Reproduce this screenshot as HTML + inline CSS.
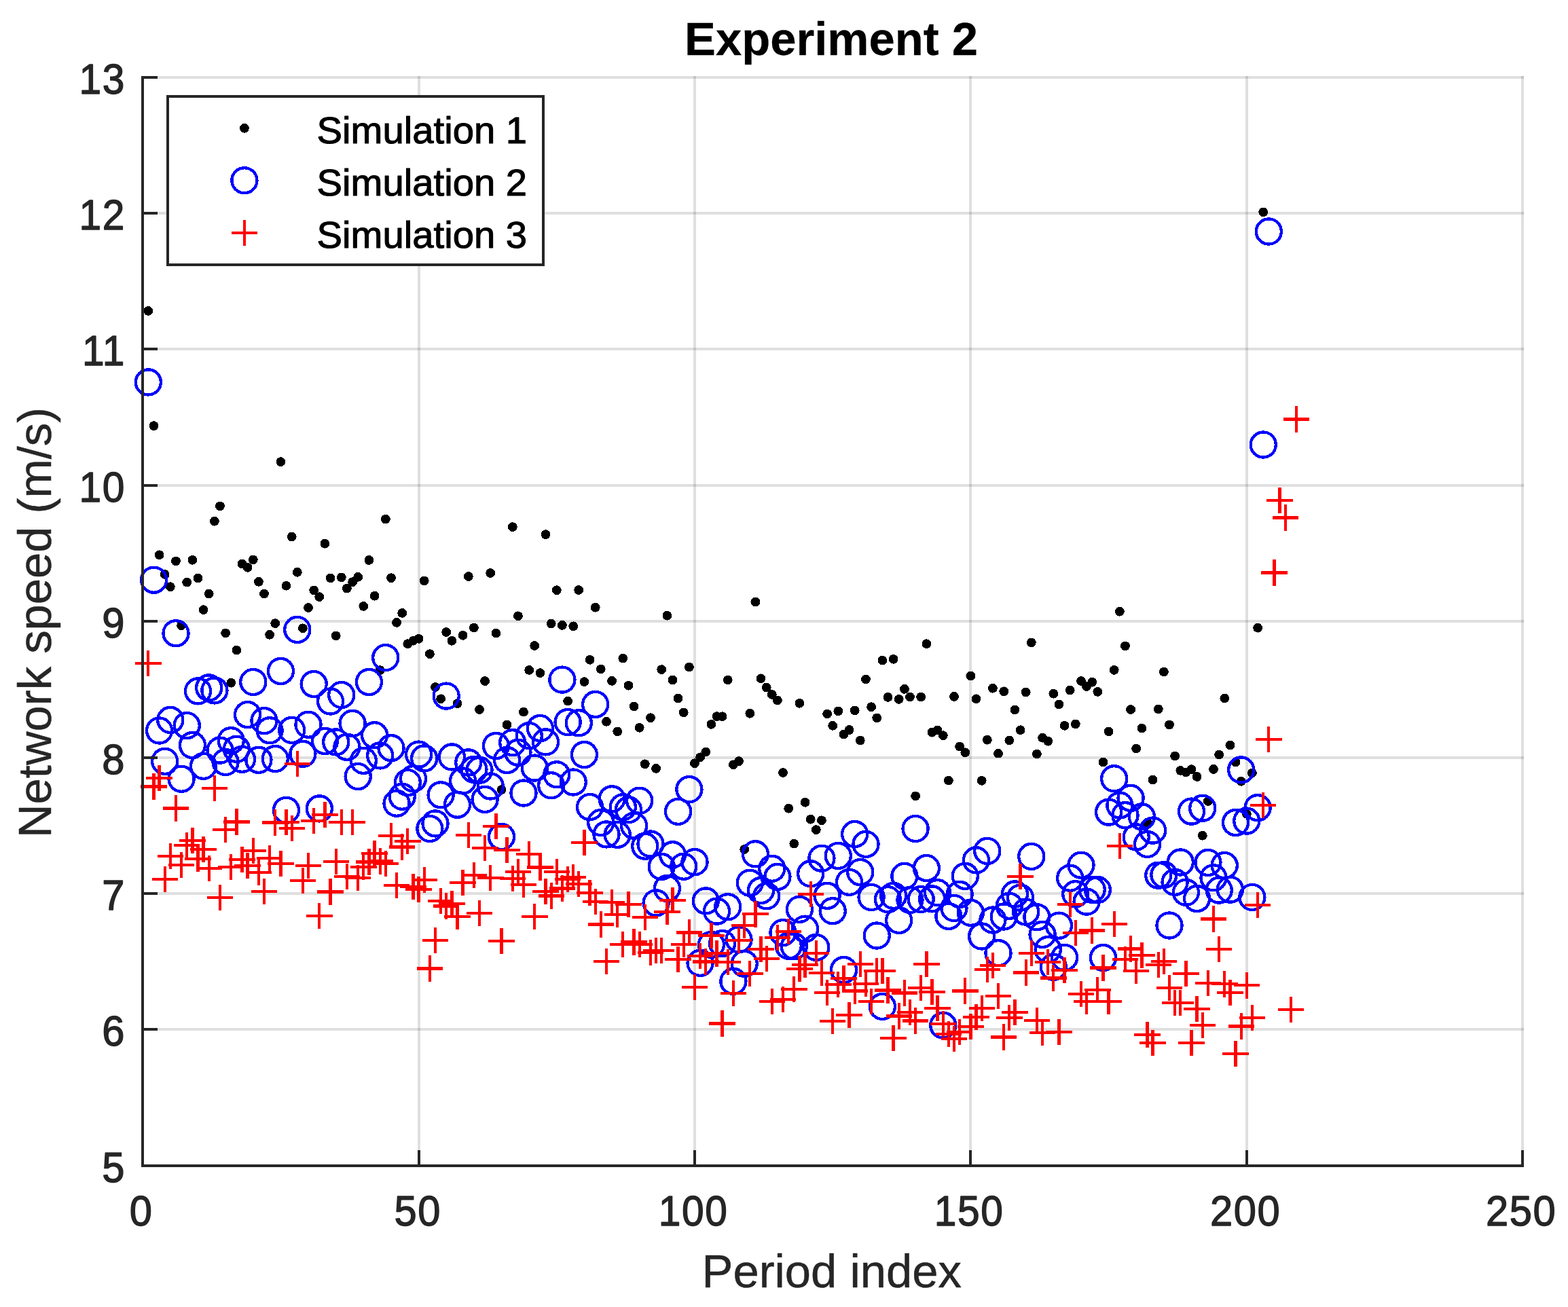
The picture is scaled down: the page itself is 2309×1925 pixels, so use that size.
<!DOCTYPE html>
<html lang="en"><head><meta charset="utf-8"><title>Experiment 2</title>
<style>html,body{margin:0;padding:0;background:#fff;overflow:hidden}svg{display:block}text{font-family:"Liberation Sans",Arial,Helvetica,sans-serif;stroke-linejoin:round}</style></head><body>
<svg width="2309" height="1925" viewBox="0 0 2309 1925">
<rect width="2309" height="1925" fill="#fff"/>
<g stroke="#262626" stroke-opacity="0.15" stroke-width="4" fill="none" shape-rendering="crispEdges">
<line x1="617" y1="112" x2="617" y2="1715"/>
<line x1="1023" y1="112" x2="1023" y2="1715"/>
<line x1="1429" y1="112" x2="1429" y2="1715"/>
<line x1="1836" y1="112" x2="1836" y2="1715"/>
<line x1="2242" y1="112" x2="2242" y2="1715"/>
<line x1="212" y1="1516" x2="2244" y2="1516"/>
<line x1="212" y1="1316" x2="2244" y2="1316"/>
<line x1="212" y1="1116" x2="2244" y2="1116"/>
<line x1="212" y1="915" x2="2244" y2="915"/>
<line x1="212" y1="715" x2="2244" y2="715"/>
<line x1="212" y1="514" x2="2244" y2="514"/>
<line x1="212" y1="314" x2="2244" y2="314"/>
<line x1="212" y1="114" x2="2244" y2="114"/>
</g>
<g fill="#000" shape-rendering="crispEdges">
<circle cx="218.3" cy="457.9" r="6.9"/>
<circle cx="226.5" cy="627.2" r="6.9"/>
<circle cx="234.6" cy="817.3" r="6.9"/>
<circle cx="242.7" cy="846.0" r="6.9"/>
<circle cx="250.8" cy="864.2" r="6.9"/>
<circle cx="259.0" cy="826.4" r="6.9"/>
<circle cx="267.1" cy="921.3" r="6.9"/>
<circle cx="275.2" cy="857.6" r="6.9"/>
<circle cx="283.4" cy="824.8" r="6.9"/>
<circle cx="291.5" cy="851.4" r="6.9"/>
<circle cx="299.6" cy="898.1" r="6.9"/>
<circle cx="307.7" cy="874.5" r="6.9"/>
<circle cx="315.9" cy="767.7" r="6.9"/>
<circle cx="324.0" cy="745.4" r="6.9"/>
<circle cx="332.1" cy="932.4" r="6.9"/>
<circle cx="340.2" cy="1005.7" r="6.9"/>
<circle cx="348.4" cy="957.6" r="6.9"/>
<circle cx="356.5" cy="830.4" r="6.9"/>
<circle cx="364.6" cy="835.8" r="6.9"/>
<circle cx="372.8" cy="824.4" r="6.9"/>
<circle cx="380.9" cy="856.8" r="6.9"/>
<circle cx="389.0" cy="874.5" r="6.9"/>
<circle cx="397.1" cy="934.8" r="6.9"/>
<circle cx="405.3" cy="918.1" r="6.9"/>
<circle cx="413.4" cy="680.1" r="6.9"/>
<circle cx="421.5" cy="862.8" r="6.9"/>
<circle cx="429.7" cy="790.5" r="6.9"/>
<circle cx="437.8" cy="842.8" r="6.9"/>
<circle cx="445.9" cy="925.3" r="6.9"/>
<circle cx="454.0" cy="895.1" r="6.9"/>
<circle cx="462.2" cy="869.4" r="6.9"/>
<circle cx="470.3" cy="879.1" r="6.9"/>
<circle cx="478.4" cy="800.7" r="6.9"/>
<circle cx="486.6" cy="851.4" r="6.9"/>
<circle cx="494.7" cy="936.4" r="6.9"/>
<circle cx="502.8" cy="850.4" r="6.9"/>
<circle cx="510.9" cy="866.6" r="6.9"/>
<circle cx="519.1" cy="857.2" r="6.9"/>
<circle cx="527.2" cy="849.8" r="6.9"/>
<circle cx="535.3" cy="892.9" r="6.9"/>
<circle cx="543.4" cy="825.0" r="6.9"/>
<circle cx="551.6" cy="877.7" r="6.9"/>
<circle cx="559.7" cy="987.1" r="6.9"/>
<circle cx="567.8" cy="764.6" r="6.9"/>
<circle cx="576.0" cy="851.2" r="6.9"/>
<circle cx="584.1" cy="916.9" r="6.9"/>
<circle cx="592.2" cy="902.9" r="6.9"/>
<circle cx="600.3" cy="948.2" r="6.9"/>
<circle cx="608.5" cy="943.8" r="6.9"/>
<circle cx="616.6" cy="940.8" r="6.9"/>
<circle cx="624.7" cy="855.4" r="6.9"/>
<circle cx="632.9" cy="963.2" r="6.9"/>
<circle cx="641.0" cy="1012.1" r="6.9"/>
<circle cx="649.1" cy="1029.3" r="6.9"/>
<circle cx="657.2" cy="931.0" r="6.9"/>
<circle cx="665.4" cy="943.8" r="6.9"/>
<circle cx="673.5" cy="1036.2" r="6.9"/>
<circle cx="681.6" cy="935.8" r="6.9"/>
<circle cx="689.8" cy="849.0" r="6.9"/>
<circle cx="697.9" cy="924.5" r="6.9"/>
<circle cx="706.0" cy="1045.0" r="6.9"/>
<circle cx="714.1" cy="1003.1" r="6.9"/>
<circle cx="722.3" cy="844.0" r="6.9"/>
<circle cx="730.4" cy="932.6" r="6.9"/>
<circle cx="738.5" cy="1163.2" r="6.9"/>
<circle cx="746.6" cy="1067.6" r="6.9"/>
<circle cx="754.8" cy="776.1" r="6.9"/>
<circle cx="762.9" cy="907.3" r="6.9"/>
<circle cx="771.0" cy="1048.6" r="6.9"/>
<circle cx="779.2" cy="986.9" r="6.9"/>
<circle cx="787.3" cy="951.0" r="6.9"/>
<circle cx="795.4" cy="991.1" r="6.9"/>
<circle cx="803.5" cy="787.1" r="6.9"/>
<circle cx="811.7" cy="918.5" r="6.9"/>
<circle cx="819.8" cy="869.2" r="6.9"/>
<circle cx="827.9" cy="920.9" r="6.9"/>
<circle cx="836.1" cy="1032.6" r="6.9"/>
<circle cx="844.2" cy="922.3" r="6.9"/>
<circle cx="852.3" cy="869.0" r="6.9"/>
<circle cx="860.4" cy="1004.1" r="6.9"/>
<circle cx="868.6" cy="971.8" r="6.9"/>
<circle cx="876.7" cy="894.7" r="6.9"/>
<circle cx="884.8" cy="985.5" r="6.9"/>
<circle cx="893.0" cy="1062.8" r="6.9"/>
<circle cx="901.1" cy="1002.9" r="6.9"/>
<circle cx="909.2" cy="1077.4" r="6.9"/>
<circle cx="917.3" cy="969.6" r="6.9"/>
<circle cx="925.5" cy="1009.7" r="6.9"/>
<circle cx="933.6" cy="1040.4" r="6.9"/>
<circle cx="941.7" cy="1071.8" r="6.9"/>
<circle cx="949.8" cy="1125.3" r="6.9"/>
<circle cx="958.0" cy="1057.2" r="6.9"/>
<circle cx="966.1" cy="1131.9" r="6.9"/>
<circle cx="974.2" cy="986.1" r="6.9"/>
<circle cx="982.4" cy="906.7" r="6.9"/>
<circle cx="990.5" cy="1001.5" r="6.9"/>
<circle cx="998.6" cy="1028.5" r="6.9"/>
<circle cx="1006.7" cy="1049.4" r="6.9"/>
<circle cx="1014.9" cy="982.5" r="6.9"/>
<circle cx="1023.0" cy="1124.3" r="6.9"/>
<circle cx="1031.1" cy="1115.3" r="6.9"/>
<circle cx="1039.3" cy="1107.5" r="6.9"/>
<circle cx="1047.4" cy="1066.8" r="6.9"/>
<circle cx="1055.5" cy="1055.2" r="6.9"/>
<circle cx="1063.6" cy="1055.2" r="6.9"/>
<circle cx="1071.8" cy="1001.5" r="6.9"/>
<circle cx="1079.9" cy="1126.3" r="6.9"/>
<circle cx="1088.0" cy="1121.1" r="6.9"/>
<circle cx="1096.2" cy="1251.0" r="6.9"/>
<circle cx="1104.3" cy="1050.8" r="6.9"/>
<circle cx="1112.4" cy="886.5" r="6.9"/>
<circle cx="1120.5" cy="999.3" r="6.9"/>
<circle cx="1128.7" cy="1012.5" r="6.9"/>
<circle cx="1136.8" cy="1022.9" r="6.9"/>
<circle cx="1144.9" cy="1031.4" r="6.9"/>
<circle cx="1153.0" cy="1138.0" r="6.9"/>
<circle cx="1161.2" cy="1190.7" r="6.9"/>
<circle cx="1169.3" cy="1242.6" r="6.9"/>
<circle cx="1177.4" cy="1035.8" r="6.9"/>
<circle cx="1185.6" cy="1181.8" r="6.9"/>
<circle cx="1193.7" cy="1206.7" r="6.9"/>
<circle cx="1201.8" cy="1222.1" r="6.9"/>
<circle cx="1209.9" cy="1208.3" r="6.9"/>
<circle cx="1218.1" cy="1051.4" r="6.9"/>
<circle cx="1226.2" cy="1068.8" r="6.9"/>
<circle cx="1234.3" cy="1047.4" r="6.9"/>
<circle cx="1242.5" cy="1081.4" r="6.9"/>
<circle cx="1250.6" cy="1075.0" r="6.9"/>
<circle cx="1258.7" cy="1046.4" r="6.9"/>
<circle cx="1266.8" cy="1090.5" r="6.9"/>
<circle cx="1275.0" cy="1000.5" r="6.9"/>
<circle cx="1283.1" cy="1041.2" r="6.9"/>
<circle cx="1291.2" cy="1057.4" r="6.9"/>
<circle cx="1299.4" cy="972.6" r="6.9"/>
<circle cx="1307.5" cy="1026.9" r="6.9"/>
<circle cx="1315.6" cy="970.8" r="6.9"/>
<circle cx="1323.7" cy="1029.9" r="6.9"/>
<circle cx="1331.9" cy="1014.9" r="6.9"/>
<circle cx="1340.0" cy="1026.5" r="6.9"/>
<circle cx="1348.1" cy="1172.4" r="6.9"/>
<circle cx="1356.2" cy="1026.5" r="6.9"/>
<circle cx="1364.4" cy="948.2" r="6.9"/>
<circle cx="1372.5" cy="1078.6" r="6.9"/>
<circle cx="1380.6" cy="1075.4" r="6.9"/>
<circle cx="1388.8" cy="1083.2" r="6.9"/>
<circle cx="1396.9" cy="1149.6" r="6.9"/>
<circle cx="1405.0" cy="1025.9" r="6.9"/>
<circle cx="1413.1" cy="1099.5" r="6.9"/>
<circle cx="1421.3" cy="1108.3" r="6.9"/>
<circle cx="1429.4" cy="995.5" r="6.9"/>
<circle cx="1437.5" cy="1029.3" r="6.9"/>
<circle cx="1445.7" cy="1149.8" r="6.9"/>
<circle cx="1453.8" cy="1089.7" r="6.9"/>
<circle cx="1461.9" cy="1013.7" r="6.9"/>
<circle cx="1470.0" cy="1109.7" r="6.9"/>
<circle cx="1478.2" cy="1018.3" r="6.9"/>
<circle cx="1486.3" cy="1090.5" r="6.9"/>
<circle cx="1494.4" cy="1045.4" r="6.9"/>
<circle cx="1502.6" cy="1075.2" r="6.9"/>
<circle cx="1510.7" cy="1019.5" r="6.9"/>
<circle cx="1518.8" cy="946.4" r="6.9"/>
<circle cx="1526.9" cy="1110.5" r="6.9"/>
<circle cx="1535.1" cy="1086.7" r="6.9"/>
<circle cx="1543.2" cy="1091.7" r="6.9"/>
<circle cx="1551.3" cy="1021.7" r="6.9"/>
<circle cx="1559.4" cy="1037.4" r="6.9"/>
<circle cx="1567.6" cy="1068.8" r="6.9"/>
<circle cx="1575.7" cy="1016.5" r="6.9"/>
<circle cx="1583.8" cy="1066.4" r="6.9"/>
<circle cx="1592.0" cy="1003.1" r="6.9"/>
<circle cx="1600.1" cy="1010.9" r="6.9"/>
<circle cx="1608.2" cy="1004.7" r="6.9"/>
<circle cx="1616.3" cy="1018.9" r="6.9"/>
<circle cx="1624.5" cy="1122.5" r="6.9"/>
<circle cx="1632.6" cy="1077.4" r="6.9"/>
<circle cx="1640.7" cy="986.9" r="6.9"/>
<circle cx="1648.9" cy="900.7" r="6.9"/>
<circle cx="1657.0" cy="951.4" r="6.9"/>
<circle cx="1665.1" cy="1045.0" r="6.9"/>
<circle cx="1673.2" cy="1102.5" r="6.9"/>
<circle cx="1681.4" cy="1072.6" r="6.9"/>
<circle cx="1689.5" cy="1211.5" r="6.9"/>
<circle cx="1697.6" cy="1148.6" r="6.9"/>
<circle cx="1705.8" cy="1044.4" r="6.9"/>
<circle cx="1713.9" cy="989.5" r="6.9"/>
<circle cx="1722.0" cy="1067.4" r="6.9"/>
<circle cx="1730.1" cy="1113.5" r="6.9"/>
<circle cx="1738.3" cy="1134.9" r="6.9"/>
<circle cx="1746.4" cy="1137.4" r="6.9"/>
<circle cx="1754.5" cy="1133.1" r="6.9"/>
<circle cx="1762.6" cy="1144.0" r="6.9"/>
<circle cx="1770.8" cy="1230.7" r="6.9"/>
<circle cx="1778.9" cy="1180.0" r="6.9"/>
<circle cx="1787.0" cy="1132.9" r="6.9"/>
<circle cx="1795.2" cy="1111.5" r="6.9"/>
<circle cx="1803.3" cy="1028.5" r="6.9"/>
<circle cx="1811.4" cy="1097.5" r="6.9"/>
<circle cx="1819.5" cy="1122.5" r="6.9"/>
<circle cx="1827.7" cy="1150.8" r="6.9"/>
<circle cx="1835.8" cy="1198.7" r="6.9"/>
<circle cx="1843.9" cy="1138.4" r="6.9"/>
<circle cx="1852.1" cy="924.7" r="6.9"/>
<circle cx="1860.2" cy="312.4" r="6.9"/>
</g>
<g fill="none" stroke="#0000ff" stroke-width="4.3" shape-rendering="crispEdges">
<circle cx="218.3" cy="562.9" r="18.55"/>
<circle cx="226.5" cy="854.2" r="18.55"/>
<circle cx="234.6" cy="1076.0" r="18.55"/>
<circle cx="242.7" cy="1121.3" r="18.55"/>
<circle cx="250.8" cy="1060.4" r="18.55"/>
<circle cx="259.0" cy="932.8" r="18.55"/>
<circle cx="267.1" cy="1147.2" r="18.55"/>
<circle cx="275.2" cy="1068.6" r="18.55"/>
<circle cx="283.4" cy="1097.5" r="18.55"/>
<circle cx="291.5" cy="1017.9" r="18.55"/>
<circle cx="299.6" cy="1128.3" r="18.55"/>
<circle cx="307.7" cy="1012.9" r="18.55"/>
<circle cx="315.9" cy="1016.9" r="18.55"/>
<circle cx="324.0" cy="1105.1" r="18.55"/>
<circle cx="332.1" cy="1122.5" r="18.55"/>
<circle cx="340.2" cy="1090.7" r="18.55"/>
<circle cx="348.4" cy="1103.3" r="18.55"/>
<circle cx="356.5" cy="1118.3" r="18.55"/>
<circle cx="364.6" cy="1052.6" r="18.55"/>
<circle cx="372.8" cy="1004.5" r="18.55"/>
<circle cx="380.9" cy="1119.3" r="18.55"/>
<circle cx="389.0" cy="1061.6" r="18.55"/>
<circle cx="397.1" cy="1075.8" r="18.55"/>
<circle cx="405.3" cy="1117.5" r="18.55"/>
<circle cx="413.4" cy="988.5" r="18.55"/>
<circle cx="421.5" cy="1193.3" r="18.55"/>
<circle cx="429.7" cy="1075.4" r="18.55"/>
<circle cx="437.8" cy="927.4" r="18.55"/>
<circle cx="445.9" cy="1110.3" r="18.55"/>
<circle cx="454.0" cy="1067.2" r="18.55"/>
<circle cx="462.2" cy="1007.5" r="18.55"/>
<circle cx="470.3" cy="1190.9" r="18.55"/>
<circle cx="478.4" cy="1091.5" r="18.55"/>
<circle cx="486.6" cy="1033.0" r="18.55"/>
<circle cx="494.7" cy="1092.9" r="18.55"/>
<circle cx="502.8" cy="1023.5" r="18.55"/>
<circle cx="510.9" cy="1100.3" r="18.55"/>
<circle cx="519.1" cy="1065.4" r="18.55"/>
<circle cx="527.2" cy="1143.6" r="18.55"/>
<circle cx="535.3" cy="1120.3" r="18.55"/>
<circle cx="543.4" cy="1004.5" r="18.55"/>
<circle cx="551.6" cy="1082.8" r="18.55"/>
<circle cx="559.7" cy="1112.9" r="18.55"/>
<circle cx="567.8" cy="968.6" r="18.55"/>
<circle cx="576.0" cy="1101.7" r="18.55"/>
<circle cx="584.1" cy="1183.2" r="18.55"/>
<circle cx="592.2" cy="1173.2" r="18.55"/>
<circle cx="600.3" cy="1152.6" r="18.55"/>
<circle cx="608.5" cy="1146.8" r="18.55"/>
<circle cx="616.6" cy="1111.1" r="18.55"/>
<circle cx="624.7" cy="1116.9" r="18.55"/>
<circle cx="632.9" cy="1220.5" r="18.55"/>
<circle cx="641.0" cy="1212.9" r="18.55"/>
<circle cx="649.1" cy="1170.8" r="18.55"/>
<circle cx="657.2" cy="1025.1" r="18.55"/>
<circle cx="665.4" cy="1114.9" r="18.55"/>
<circle cx="673.5" cy="1185.2" r="18.55"/>
<circle cx="681.6" cy="1150.0" r="18.55"/>
<circle cx="689.8" cy="1122.9" r="18.55"/>
<circle cx="697.9" cy="1133.3" r="18.55"/>
<circle cx="706.0" cy="1134.3" r="18.55"/>
<circle cx="714.1" cy="1177.4" r="18.55"/>
<circle cx="722.3" cy="1158.0" r="18.55"/>
<circle cx="730.4" cy="1098.5" r="18.55"/>
<circle cx="738.5" cy="1232.5" r="18.55"/>
<circle cx="746.6" cy="1119.5" r="18.55"/>
<circle cx="754.8" cy="1093.7" r="18.55"/>
<circle cx="762.9" cy="1108.3" r="18.55"/>
<circle cx="771.0" cy="1168.0" r="18.55"/>
<circle cx="779.2" cy="1083.6" r="18.55"/>
<circle cx="787.3" cy="1131.1" r="18.55"/>
<circle cx="795.4" cy="1072.6" r="18.55"/>
<circle cx="803.5" cy="1092.9" r="18.55"/>
<circle cx="811.7" cy="1156.8" r="18.55"/>
<circle cx="819.8" cy="1140.8" r="18.55"/>
<circle cx="827.9" cy="1001.1" r="18.55"/>
<circle cx="836.1" cy="1063.6" r="18.55"/>
<circle cx="844.2" cy="1152.0" r="18.55"/>
<circle cx="852.3" cy="1064.8" r="18.55"/>
<circle cx="860.4" cy="1111.5" r="18.55"/>
<circle cx="868.6" cy="1188.6" r="18.55"/>
<circle cx="876.7" cy="1037.4" r="18.55"/>
<circle cx="884.8" cy="1211.5" r="18.55"/>
<circle cx="893.0" cy="1228.9" r="18.55"/>
<circle cx="901.1" cy="1176.8" r="18.55"/>
<circle cx="909.2" cy="1229.3" r="18.55"/>
<circle cx="917.3" cy="1188.8" r="18.55"/>
<circle cx="925.5" cy="1192.7" r="18.55"/>
<circle cx="933.6" cy="1216.1" r="18.55"/>
<circle cx="941.7" cy="1179.2" r="18.55"/>
<circle cx="949.8" cy="1246.2" r="18.55"/>
<circle cx="958.0" cy="1243.0" r="18.55"/>
<circle cx="966.1" cy="1329.9" r="18.55"/>
<circle cx="974.2" cy="1276.4" r="18.55"/>
<circle cx="982.4" cy="1308.5" r="18.55"/>
<circle cx="990.5" cy="1258.8" r="18.55"/>
<circle cx="998.6" cy="1195.3" r="18.55"/>
<circle cx="1006.7" cy="1276.2" r="18.55"/>
<circle cx="1014.9" cy="1162.6" r="18.55"/>
<circle cx="1023.0" cy="1269.6" r="18.55"/>
<circle cx="1031.1" cy="1418.3" r="18.55"/>
<circle cx="1039.3" cy="1326.9" r="18.55"/>
<circle cx="1047.4" cy="1391.4" r="18.55"/>
<circle cx="1055.5" cy="1342.1" r="18.55"/>
<circle cx="1063.6" cy="1389.6" r="18.55"/>
<circle cx="1071.8" cy="1335.7" r="18.55"/>
<circle cx="1079.9" cy="1445.3" r="18.55"/>
<circle cx="1088.0" cy="1383.8" r="18.55"/>
<circle cx="1096.2" cy="1419.3" r="18.55"/>
<circle cx="1104.3" cy="1300.3" r="18.55"/>
<circle cx="1112.4" cy="1257.8" r="18.55"/>
<circle cx="1120.5" cy="1311.5" r="18.55"/>
<circle cx="1128.7" cy="1319.7" r="18.55"/>
<circle cx="1136.8" cy="1279.2" r="18.55"/>
<circle cx="1144.9" cy="1291.4" r="18.55"/>
<circle cx="1153.0" cy="1373.6" r="18.55"/>
<circle cx="1161.2" cy="1393.2" r="18.55"/>
<circle cx="1169.3" cy="1393.8" r="18.55"/>
<circle cx="1177.4" cy="1339.3" r="18.55"/>
<circle cx="1185.6" cy="1368.2" r="18.55"/>
<circle cx="1193.7" cy="1286.8" r="18.55"/>
<circle cx="1201.8" cy="1395.4" r="18.55"/>
<circle cx="1209.9" cy="1264.2" r="18.55"/>
<circle cx="1218.1" cy="1319.3" r="18.55"/>
<circle cx="1226.2" cy="1341.7" r="18.55"/>
<circle cx="1234.3" cy="1260.4" r="18.55"/>
<circle cx="1242.5" cy="1428.5" r="18.55"/>
<circle cx="1250.6" cy="1299.3" r="18.55"/>
<circle cx="1258.7" cy="1228.5" r="18.55"/>
<circle cx="1266.8" cy="1284.6" r="18.55"/>
<circle cx="1275.0" cy="1243.4" r="18.55"/>
<circle cx="1283.1" cy="1321.5" r="18.55"/>
<circle cx="1291.2" cy="1378.0" r="18.55"/>
<circle cx="1299.4" cy="1482.4" r="18.55"/>
<circle cx="1307.5" cy="1324.7" r="18.55"/>
<circle cx="1315.6" cy="1319.3" r="18.55"/>
<circle cx="1323.7" cy="1355.4" r="18.55"/>
<circle cx="1331.9" cy="1290.4" r="18.55"/>
<circle cx="1340.0" cy="1325.5" r="18.55"/>
<circle cx="1348.1" cy="1220.5" r="18.55"/>
<circle cx="1356.2" cy="1324.5" r="18.55"/>
<circle cx="1364.4" cy="1278.6" r="18.55"/>
<circle cx="1372.5" cy="1323.9" r="18.55"/>
<circle cx="1380.6" cy="1314.7" r="18.55"/>
<circle cx="1388.8" cy="1510.1" r="18.55"/>
<circle cx="1396.9" cy="1349.4" r="18.55"/>
<circle cx="1405.0" cy="1337.5" r="18.55"/>
<circle cx="1413.1" cy="1317.3" r="18.55"/>
<circle cx="1421.3" cy="1290.4" r="18.55"/>
<circle cx="1429.4" cy="1344.3" r="18.55"/>
<circle cx="1437.5" cy="1266.8" r="18.55"/>
<circle cx="1445.7" cy="1379.0" r="18.55"/>
<circle cx="1453.8" cy="1253.4" r="18.55"/>
<circle cx="1461.9" cy="1355.0" r="18.55"/>
<circle cx="1470.0" cy="1403.7" r="18.55"/>
<circle cx="1478.2" cy="1350.0" r="18.55"/>
<circle cx="1486.3" cy="1334.3" r="18.55"/>
<circle cx="1494.4" cy="1316.9" r="18.55"/>
<circle cx="1502.6" cy="1322.1" r="18.55"/>
<circle cx="1510.7" cy="1343.1" r="18.55"/>
<circle cx="1518.8" cy="1261.4" r="18.55"/>
<circle cx="1526.9" cy="1350.8" r="18.55"/>
<circle cx="1535.1" cy="1376.4" r="18.55"/>
<circle cx="1543.2" cy="1398.6" r="18.55"/>
<circle cx="1551.3" cy="1424.3" r="18.55"/>
<circle cx="1559.4" cy="1363.2" r="18.55"/>
<circle cx="1567.6" cy="1410.3" r="18.55"/>
<circle cx="1575.7" cy="1293.2" r="18.55"/>
<circle cx="1583.8" cy="1316.7" r="18.55"/>
<circle cx="1592.0" cy="1274.2" r="18.55"/>
<circle cx="1600.1" cy="1328.1" r="18.55"/>
<circle cx="1608.2" cy="1310.3" r="18.55"/>
<circle cx="1616.3" cy="1310.5" r="18.55"/>
<circle cx="1624.5" cy="1410.5" r="18.55"/>
<circle cx="1632.6" cy="1196.1" r="18.55"/>
<circle cx="1640.7" cy="1146.8" r="18.55"/>
<circle cx="1648.9" cy="1186.0" r="18.55"/>
<circle cx="1657.0" cy="1200.7" r="18.55"/>
<circle cx="1665.1" cy="1175.4" r="18.55"/>
<circle cx="1673.2" cy="1232.9" r="18.55"/>
<circle cx="1681.4" cy="1202.9" r="18.55"/>
<circle cx="1689.5" cy="1243.4" r="18.55"/>
<circle cx="1697.6" cy="1223.1" r="18.55"/>
<circle cx="1705.8" cy="1289.2" r="18.55"/>
<circle cx="1713.9" cy="1288.6" r="18.55"/>
<circle cx="1722.0" cy="1363.0" r="18.55"/>
<circle cx="1730.1" cy="1299.3" r="18.55"/>
<circle cx="1738.3" cy="1270.0" r="18.55"/>
<circle cx="1746.4" cy="1314.3" r="18.55"/>
<circle cx="1754.5" cy="1195.1" r="18.55"/>
<circle cx="1762.6" cy="1323.5" r="18.55"/>
<circle cx="1770.8" cy="1190.3" r="18.55"/>
<circle cx="1778.9" cy="1270.4" r="18.55"/>
<circle cx="1787.0" cy="1292.8" r="18.55"/>
<circle cx="1795.2" cy="1311.1" r="18.55"/>
<circle cx="1803.3" cy="1274.6" r="18.55"/>
<circle cx="1811.4" cy="1310.1" r="18.55"/>
<circle cx="1819.5" cy="1211.5" r="18.55"/>
<circle cx="1827.7" cy="1133.9" r="18.55"/>
<circle cx="1835.8" cy="1209.1" r="18.55"/>
<circle cx="1843.9" cy="1321.5" r="18.55"/>
<circle cx="1852.1" cy="1189.7" r="18.55"/>
<circle cx="1860.2" cy="655.0" r="18.55"/>
<circle cx="1868.3" cy="341.0" r="18.55"/>
</g>
<path fill="none" stroke="#ff0000" stroke-width="4.3" shape-rendering="crispEdges" d="M199.1 977.0h38.4M218.3 957.8v38.4M207.3 1158.6h38.4M226.5 1139.4v38.4M215.4 1145.8h38.4M234.6 1126.6v38.4M223.5 1295.1h38.4M242.7 1275.9v38.4M231.6 1261.0h38.4M250.8 1241.8v38.4M239.8 1190.5h38.4M259.0 1171.3v38.4M247.9 1273.8h38.4M267.1 1254.6v38.4M256.0 1245.2h38.4M275.2 1226.0v38.4M264.2 1237.9h38.4M283.4 1218.7v38.4M272.3 1265.0h38.4M291.5 1245.8v38.4M280.4 1251.0h38.4M299.6 1231.8v38.4M288.5 1278.8h38.4M307.7 1259.6v38.4M296.7 1161.0h38.4M315.9 1141.8v38.4M304.8 1321.9h38.4M324.0 1302.7v38.4M312.9 1221.9h38.4M332.1 1202.7v38.4M321.0 1277.0h38.4M340.2 1257.8v38.4M329.2 1210.5h38.4M348.4 1191.3v38.4M337.3 1266.0h38.4M356.5 1246.8v38.4M345.4 1274.8h38.4M364.6 1255.6v38.4M353.6 1252.8h38.4M372.8 1233.6v38.4M361.7 1285.0h38.4M380.9 1265.8v38.4M369.8 1313.1h38.4M389.0 1293.9v38.4M377.9 1263.8h38.4M397.1 1244.6v38.4M386.1 1211.5h38.4M405.3 1192.3v38.4M394.2 1271.8h38.4M413.4 1252.6v38.4M402.3 1211.1h38.4M421.5 1191.9v38.4M410.5 1219.7h38.4M429.7 1200.5v38.4M418.6 1124.9h38.4M437.8 1105.7v38.4M426.7 1297.1h38.4M445.9 1277.9v38.4M434.8 1275.0h38.4M454.0 1255.8v38.4M443.0 1209.1h38.4M462.2 1189.9v38.4M451.1 1349.0h38.4M470.3 1329.8v38.4M459.2 1199.7h38.4M478.4 1180.5v38.4M467.4 1313.5h38.4M486.6 1294.3v38.4M475.5 1269.0h38.4M494.7 1249.8v38.4M483.6 1211.1h38.4M502.8 1191.9v38.4M491.7 1291.0h38.4M510.9 1271.8v38.4M499.9 1211.1h38.4M519.1 1191.9v38.4M508.0 1292.8h38.4M527.2 1273.6v38.4M516.1 1277.2h38.4M535.3 1258.0v38.4M524.2 1269.6h38.4M543.4 1250.4v38.4M532.4 1257.2h38.4M551.6 1238.0v38.4M540.5 1268.6h38.4M559.7 1249.4v38.4M548.6 1271.8h38.4M567.8 1252.6v38.4M556.8 1231.1h38.4M576.0 1211.9v38.4M564.9 1304.1h38.4M584.1 1284.9v38.4M573.0 1247.4h38.4M592.2 1228.2v38.4M581.1 1238.9h38.4M600.3 1219.7v38.4M589.3 1306.1h38.4M608.5 1286.9v38.4M597.4 1310.1h38.4M616.6 1290.9v38.4M605.5 1296.1h38.4M624.7 1276.9v38.4M613.7 1426.5h38.4M632.9 1407.3v38.4M621.8 1385.0h38.4M641.0 1365.8v38.4M629.9 1326.9h38.4M649.1 1307.7v38.4M638.0 1334.5h38.4M657.2 1315.3v38.4M646.2 1330.9h38.4M665.4 1311.7v38.4M654.3 1350.0h38.4M673.5 1330.8v38.4M662.4 1299.7h38.4M681.6 1280.5v38.4M670.6 1229.9h38.4M689.8 1210.7v38.4M678.7 1288.8h38.4M697.9 1269.6v38.4M686.8 1344.9h38.4M706.0 1325.7v38.4M694.9 1249.0h38.4M714.1 1229.8v38.4M703.1 1293.2h38.4M722.3 1274.0v38.4M711.2 1216.9h38.4M730.4 1197.7v38.4M719.3 1386.0h38.4M738.5 1366.8v38.4M727.4 1251.8h38.4M746.6 1232.6v38.4M735.6 1293.8h38.4M754.8 1274.6v38.4M743.7 1283.8h38.4M762.9 1264.6v38.4M751.8 1303.1h38.4M771.0 1283.9v38.4M760.0 1258.0h38.4M779.2 1238.8v38.4M768.1 1350.0h38.4M787.3 1330.8v38.4M776.2 1277.6h38.4M795.4 1258.4v38.4M784.3 1312.9h38.4M803.5 1293.7v38.4M792.5 1319.5h38.4M811.7 1300.3v38.4M800.6 1284.0h38.4M819.8 1264.8v38.4M808.7 1308.5h38.4M827.9 1289.3v38.4M816.9 1295.1h38.4M836.1 1275.9v38.4M825.0 1292.2h38.4M844.2 1273.0v38.4M833.1 1301.9h38.4M852.3 1282.7v38.4M841.2 1240.9h38.4M860.4 1221.7v38.4M849.4 1315.1h38.4M868.6 1295.9v38.4M857.5 1327.7h38.4M876.7 1308.5v38.4M865.6 1361.6h38.4M884.8 1342.4v38.4M873.8 1416.1h38.4M893.0 1396.9v38.4M881.9 1328.9h38.4M901.1 1309.7v38.4M890.0 1346.9h38.4M909.2 1327.7v38.4M898.1 1391.0h38.4M917.3 1371.8v38.4M906.3 1331.7h38.4M925.5 1312.5v38.4M914.4 1387.6h38.4M933.6 1368.4v38.4M922.5 1391.2h38.4M941.7 1372.0v38.4M930.6 1351.0h38.4M949.8 1331.8v38.4M938.8 1402.9h38.4M958.0 1383.7v38.4M946.9 1400.0h38.4M966.1 1380.8v38.4M955.0 1400.0h38.4M974.2 1380.8v38.4M963.2 1342.9h38.4M982.4 1323.7v38.4M971.3 1325.9h38.4M990.5 1306.7v38.4M979.4 1412.9h38.4M998.6 1393.7v38.4M987.5 1391.0h38.4M1006.7 1371.8v38.4M995.7 1373.6h38.4M1014.9 1354.4v38.4M1003.8 1454.0h38.4M1023.0 1434.8v38.4M1011.9 1408.1h38.4M1031.1 1388.9v38.4M1020.1 1416.5h38.4M1039.3 1397.3v38.4M1028.2 1378.0h38.4M1047.4 1358.8v38.4M1036.3 1404.3h38.4M1055.5 1385.1v38.4M1044.4 1507.5h38.4M1063.6 1488.3v38.4M1052.6 1417.1h38.4M1071.8 1397.9v38.4M1060.7 1463.0h38.4M1079.9 1443.8v38.4M1068.8 1384.8h38.4M1088.0 1365.6v38.4M1077.0 1363.2h38.4M1096.2 1344.0v38.4M1085.1 1434.1h38.4M1104.3 1414.9v38.4M1093.2 1346.3h38.4M1112.4 1327.1v38.4M1101.3 1397.8h38.4M1120.5 1378.6v38.4M1109.5 1411.9h38.4M1128.7 1392.7v38.4M1117.6 1475.2h38.4M1136.8 1456.0v38.4M1125.7 1381.0h38.4M1144.9 1361.8v38.4M1133.8 1472.0h38.4M1153.0 1452.8v38.4M1142.0 1372.0h38.4M1161.2 1352.8v38.4M1150.1 1457.0h38.4M1169.3 1437.8v38.4M1158.2 1426.9h38.4M1177.4 1407.7v38.4M1166.4 1421.1h38.4M1185.6 1401.9v38.4M1174.5 1317.1h38.4M1193.7 1297.9v38.4M1182.6 1403.9h38.4M1201.8 1384.7v38.4M1190.7 1432.9h38.4M1209.9 1413.7v38.4M1198.9 1462.2h38.4M1218.1 1443.0v38.4M1207.0 1503.8h38.4M1226.2 1484.6v38.4M1215.1 1449.9h38.4M1234.3 1430.7v38.4M1223.3 1440.7h38.4M1242.5 1421.5v38.4M1231.4 1495.0h38.4M1250.6 1475.8v38.4M1239.5 1459.6h38.4M1258.7 1440.4v38.4M1247.6 1420.1h38.4M1266.8 1400.9v38.4M1255.8 1448.9h38.4M1275.0 1429.7v38.4M1263.9 1475.0h38.4M1283.1 1455.8v38.4M1272.0 1429.9h38.4M1291.2 1410.7v38.4M1280.2 1429.9h38.4M1299.4 1410.7v38.4M1288.3 1458.6h38.4M1307.5 1439.4v38.4M1296.4 1528.9h38.4M1315.6 1509.7v38.4M1304.5 1496.4h38.4M1323.7 1477.2v38.4M1312.7 1462.6h38.4M1331.9 1443.4v38.4M1320.8 1491.0h38.4M1340.0 1471.8v38.4M1328.9 1503.6h38.4M1348.1 1484.4v38.4M1337.0 1455.0h38.4M1356.2 1435.8v38.4M1345.2 1420.1h38.4M1364.4 1400.9v38.4M1353.3 1460.8h38.4M1372.5 1441.6v38.4M1361.4 1485.0h38.4M1380.6 1465.8v38.4M1369.6 1508.1h38.4M1388.8 1488.9v38.4M1377.7 1522.9h38.4M1396.9 1503.7v38.4M1385.8 1530.1h38.4M1405.0 1510.9v38.4M1393.9 1519.7h38.4M1413.1 1500.5v38.4M1402.1 1459.6h38.4M1421.3 1440.4v38.4M1410.2 1511.9h38.4M1429.4 1492.7v38.4M1418.3 1498.0h38.4M1437.5 1478.8v38.4M1426.5 1485.0h38.4M1445.7 1465.8v38.4M1434.6 1427.9h38.4M1453.8 1408.7v38.4M1442.7 1422.1h38.4M1461.9 1402.9v38.4M1450.8 1467.0h38.4M1470.0 1447.8v38.4M1459.0 1527.5h38.4M1478.2 1508.3v38.4M1467.1 1499.0h38.4M1486.3 1479.8v38.4M1475.2 1491.2h38.4M1494.4 1472.0v38.4M1483.4 1291.0h38.4M1502.6 1271.8v38.4M1491.5 1432.5h38.4M1510.7 1413.3v38.4M1499.6 1404.1h38.4M1518.8 1384.9v38.4M1507.7 1503.0h38.4M1526.9 1483.8v38.4M1515.9 1521.1h38.4M1535.1 1501.9v38.4M1524.0 1417.1h38.4M1543.2 1397.9v38.4M1532.1 1440.5h38.4M1551.3 1421.3v38.4M1540.2 1520.1h38.4M1559.4 1500.9v38.4M1548.4 1428.9h38.4M1567.6 1409.7v38.4M1556.5 1331.9h38.4M1575.7 1312.7v38.4M1564.6 1374.2h38.4M1583.8 1355.0v38.4M1572.8 1464.0h38.4M1592.0 1444.8v38.4M1580.9 1475.0h38.4M1600.1 1455.8v38.4M1589.0 1370.4h38.4M1608.2 1351.2v38.4M1597.1 1457.8h38.4M1616.3 1438.6v38.4M1605.3 1425.5h38.4M1624.5 1406.3v38.4M1613.4 1474.8h38.4M1632.6 1455.6v38.4M1621.5 1361.0h38.4M1640.7 1341.8v38.4M1629.7 1246.0h38.4M1648.9 1226.8v38.4M1637.8 1413.1h38.4M1657.0 1393.9v38.4M1645.9 1397.6h38.4M1665.1 1378.4v38.4M1654.0 1429.9h38.4M1673.2 1410.7v38.4M1662.2 1406.7h38.4M1681.4 1387.5v38.4M1670.3 1523.9h38.4M1689.5 1504.7v38.4M1678.4 1535.9h38.4M1697.6 1516.7v38.4M1686.6 1421.1h38.4M1705.8 1401.9v38.4M1694.7 1416.1h38.4M1713.9 1396.9v38.4M1702.8 1455.0h38.4M1722.0 1435.8v38.4M1710.9 1477.0h38.4M1730.1 1457.8v38.4M1719.1 1477.0h38.4M1738.3 1457.8v38.4M1727.2 1433.9h38.4M1746.4 1414.7v38.4M1735.3 1535.9h38.4M1754.5 1516.7v38.4M1743.4 1486.0h38.4M1762.6 1466.8v38.4M1751.6 1510.1h38.4M1770.8 1490.9v38.4M1759.7 1447.9h38.4M1778.9 1428.7v38.4M1767.8 1353.4h38.4M1787.0 1334.2v38.4M1776.0 1397.8h38.4M1795.2 1378.6v38.4M1784.1 1449.3h38.4M1803.3 1430.1v38.4M1792.2 1462.2h38.4M1811.4 1443.0v38.4M1800.3 1551.9h38.4M1819.5 1532.7v38.4M1808.5 1511.5h38.4M1827.7 1492.3v38.4M1816.6 1451.3h38.4M1835.8 1432.1v38.4M1824.7 1499.0h38.4M1843.9 1479.8v38.4M1832.9 1333.1h38.4M1852.1 1313.9v38.4M1841.0 1186.0h38.4M1860.2 1166.8v38.4M1849.1 1089.1h38.4M1868.3 1069.9v38.4M1857.2 843.4h38.4M1876.4 824.2v38.4M1865.4 736.8h38.4M1884.6 717.6v38.4M1873.5 762.4h38.4M1892.7 743.2v38.4M1881.6 1487.2h38.4M1900.8 1468.0v38.4M1889.8 617.4h38.4M1909.0 598.2v38.4"/>
<g stroke="#262626" stroke-width="4" fill="none" shape-rendering="crispEdges">
<path d="M210 112V1717H2244" stroke-linejoin="miter"/>
<line x1="617" y1="1719" x2="617" y2="1694"/>
<line x1="1023" y1="1719" x2="1023" y2="1694"/>
<line x1="1429" y1="1719" x2="1429" y2="1694"/>
<line x1="1836" y1="1719" x2="1836" y2="1694"/>
<line x1="2242" y1="1719" x2="2242" y2="1694"/>
<line x1="208" y1="1516" x2="232" y2="1516"/>
<line x1="208" y1="1316" x2="232" y2="1316"/>
<line x1="208" y1="1116" x2="232" y2="1116"/>
<line x1="208" y1="915" x2="232" y2="915"/>
<line x1="208" y1="715" x2="232" y2="715"/>
<line x1="208" y1="514" x2="232" y2="514"/>
<line x1="208" y1="314" x2="232" y2="314"/>
<line x1="208" y1="114" x2="232" y2="114"/>
</g>
<g fill="#262626" stroke="#262626" stroke-width="1.4" font-size="63.5" letter-spacing="1.7">
<text transform="translate(208.2,1805.4) scale(0.94,1)" text-anchor="middle">0</text>
<text transform="translate(615.2,1805.4) scale(0.94,1)" text-anchor="middle">50</text>
<text transform="translate(1021.2,1805.4) scale(0.925,1)" text-anchor="middle">100</text>
<text transform="translate(1427.2,1805.4) scale(0.925,1)" text-anchor="middle">150</text>
<text transform="translate(1834.2,1805.4) scale(0.94,1)" text-anchor="middle">200</text>
<text transform="translate(2240.2,1805.4) scale(0.94,1)" text-anchor="middle">250</text>
<text transform="translate(185.0,1740.5) scale(0.94,1)" text-anchor="end">5</text>
<text transform="translate(185.0,1539.5) scale(0.94,1)" text-anchor="end">6</text>
<text transform="translate(185.0,1339.5) scale(0.94,1)" text-anchor="end">7</text>
<text transform="translate(185.0,1139.5) scale(0.94,1)" text-anchor="end">8</text>
<text transform="translate(185.0,938.5) scale(0.94,1)" text-anchor="end">9</text>
<text transform="translate(185.0,738.5) scale(0.925,1)" text-anchor="end">10</text>
<text transform="translate(185.0,537.5) scale(0.925,1)" text-anchor="end">11</text>
<text transform="translate(185.0,337.5) scale(0.925,1)" text-anchor="end">12</text>
<text transform="translate(185.0,137.5) scale(0.925,1)" text-anchor="end">13</text>
</g>
<text x="1224.7" y="1895.7" text-anchor="middle" font-size="68.75" fill="#262626" stroke="#262626" stroke-width="0.5">Period index</text>
<text transform="translate(75.3,917.0) rotate(-90)" text-anchor="middle" font-size="68.75" fill="#262626" stroke="#262626" stroke-width="0.5">Network speed (m/s)</text>
<text x="1224.0" y="80.7" text-anchor="middle" font-size="68.75" font-weight="bold" fill="#000" stroke="#000" stroke-width="0.3">Experiment 2</text>
<rect x="247" y="142" width="553" height="248" fill="#fff" stroke="#262626" stroke-width="4" shape-rendering="crispEdges"/>
<circle cx="359.9" cy="188.8" r="6.9" fill="#000" shape-rendering="crispEdges"/>
<circle cx="359.9" cy="265.8" r="18.55" fill="none" stroke="#0000ff" stroke-width="4.3" shape-rendering="crispEdges"/>
<path d="M340.7 342.9h38.4M359.9 323.7v38.4" fill="none" stroke="#ff0000" stroke-width="4.3" shape-rendering="crispEdges"/>
<g fill="#000" stroke="#000" stroke-width="1.1" font-size="56.25">
<text x="466.6" y="210.8">Simulation 1</text>
<text x="466.6" y="287.9">Simulation 2</text>
<text x="466.6" y="365.2">Simulation 3</text>
</g>
</svg></body></html>
